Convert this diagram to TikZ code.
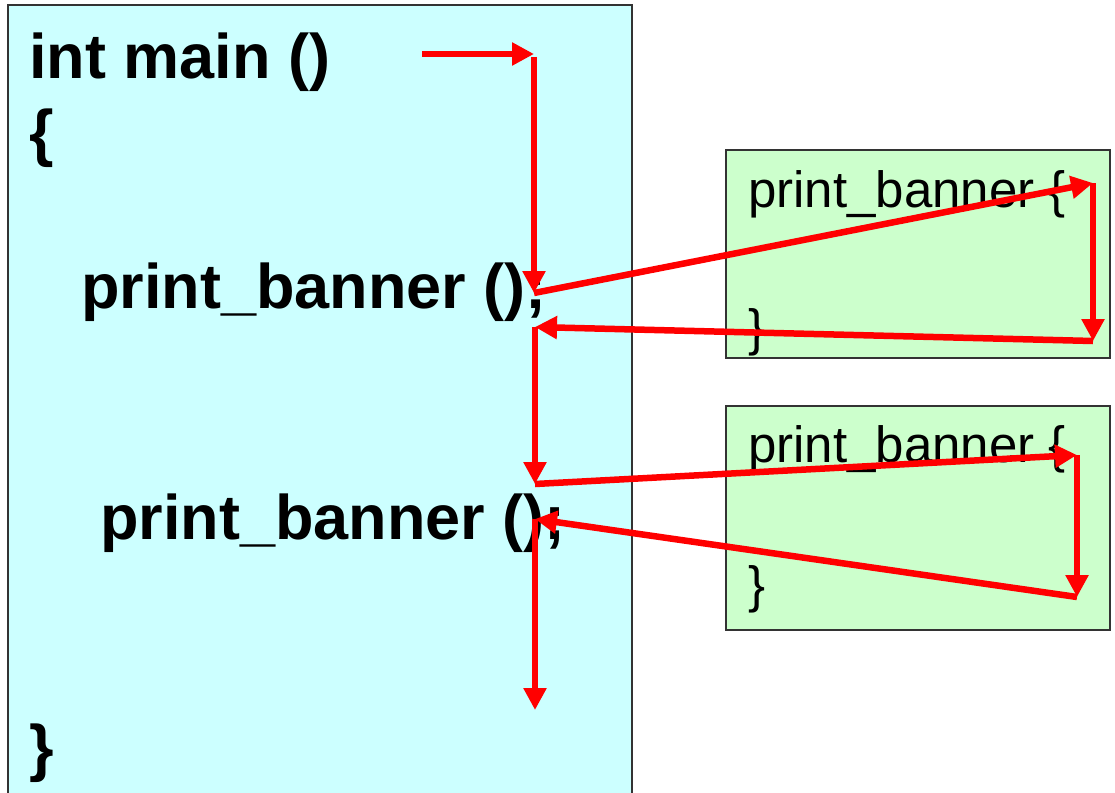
\documentclass[tikz,border=0pt]{standalone}
\usepackage{fontspec}
\setmainfont{Liberation Sans}
\usetikzlibrary{arrows.meta}
\definecolor{maincyan}{HTML}{CCFFFF}
\definecolor{fungreen}{HTML}{CCFFCC}
\tikzset{
  codebig/.style={anchor=base west, inner sep=0pt, font=\fontsize{63}{70}\selectfont\bfseries},
  codesmall/.style={anchor=base west, inner sep=0pt, font=\fontsize{51}{60}\selectfont},
  flow/.style={draw=red, line width=6.5pt, -{Triangle[length=22pt,width=22pt]}},
  frame/.style={draw=black!80, line width=2pt}
}

\begin{document}
\begin{tikzpicture}[x=1pt,y=-1pt]
			%%%%% START %%%%%
			\useasboundingbox (0,0) rectangle (1115,792);
			
			\draw[frame, fill=maincyan] (8,5) rectangle (632,800);
			\draw[frame, fill=fungreen] (726,150) rectangle (1110,358);
			\draw[frame, fill=fungreen] (726,406) rectangle (1110,630);
			
			\node[codebig] (intmain) at (29,78) {int main ()};
			\node[codebig] (lbrace) at (29,154) {\{};
			\node[codebig] (callA) at (81,308) {print\_banner ();};
			\node[codebig] (callB) at (100,539) {print\_banner ();};
			\node[codebig] (rbrace) at (29,769) {\}};
			
			\node[codesmall] (funA) at (748,207) {print\_banner \{};
			\node[codesmall] (funAend) at (748,345) {\}};
			\node[codesmall] (funB) at (748,462) {print\_banner \{};
			\node[codesmall] (funBend) at (748,602) {\}};
			
			% corners of the call path
			\coordinate (s0) at (422,54);
			\coordinate (s1) at (534,54);
			\coordinate (s2) at (534,293);
			\coordinate (s3) at (1093,183);
			\coordinate (s4) at (1093,341);
			\coordinate (s5) at (535,327);
			\coordinate (s6) at (535,484);
			\coordinate (s7) at (1077,455);
			\coordinate (s8) at (1077,597);
			\coordinate (s9) at (535,519);
			\coordinate (s10) at (535,710);
			
			\draw[flow] (s0) -- (s1);
			\draw[flow] ([yshift=-3pt]s1) -- (s2);
			\draw[flow] (s2) -- (s3);
			\draw[flow] (s3) -- (s4);
			\draw[flow] (s4) -- (s5);
			\draw[flow] (s5) -- (s6);
			\draw[flow] (s6) -- (s7);
			\draw[flow] (s7) -- (s8);
			\draw[flow] (s8) -- (s9);
			\draw[flow] (s9) -- (s10);
			
			%%%%% END %%%%%
\end{tikzpicture}
\end{document}
